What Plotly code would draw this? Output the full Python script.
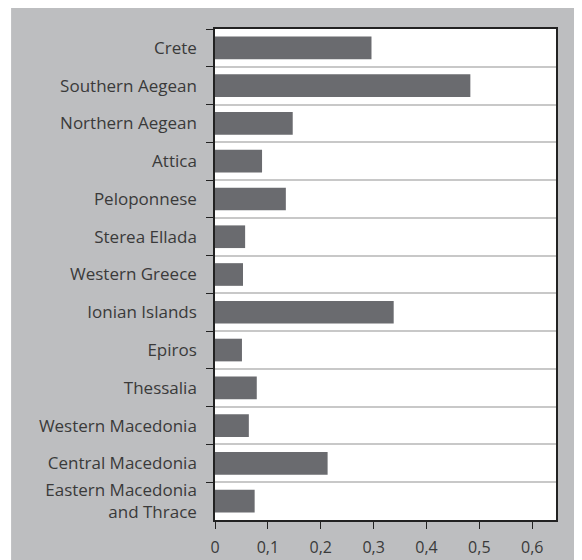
import plotly.graph_objects as go

# regions, top to bottom as in the chart
regions = [
    "Crete",
    "Southern Aegean",
    "Northern Aegean",
    "Attica",
    "Peloponnese",
    "Sterea Ellada",
    "Western Greece",
    "Ionian Islands",
    "Epiros",
    "Thessalia",
    "Western Macedonia",
    "Central Macedonia",
    "Eastern Macedonia<br>and Thrace",
]
values = [0.296, 0.483, 0.147, 0.089, 0.134, 0.057, 0.053, 0.338, 0.051, 0.079, 0.064, 0.213, 0.075]
x_ticks = [0, 0.1, 0.2, 0.3, 0.4, 0.5, 0.6]
x_tick_labels = ["0", "0,1", "0,2", "0,3", "0,4", "0,5", "0,6"]

BG = "#bdbec0"
BAR = "#6a6b6f"
TEXT = "#3a3a3a"

fig = go.Figure()
fig.add_trace(go.Bar(
    x=values,
    y=regions,
    orientation="h",
    marker=dict(color=BAR, line=dict(width=0)),
    hoverinfo="x+y",
))

# page body has an 8px margin, so the figure is sized to fit the window
fig.update_layout(
    width=574,
    height=552,
    margin=dict(l=207, r=26, t=21, b=40),
    paper_bgcolor=BG,
    plot_bgcolor="white",
    separators=",.",
    bargap=0.4,
    showlegend=False,
    font=dict(family="Open Sans", size=17, color=TEXT),
    # white strip left of the grey panel
    shapes=[
        dict(type="rect", xref="paper", yref="paper", x0=-1, x1=-0.598, y0=-1, y1=2,
             fillcolor="white", line=dict(width=0), layer="below"),
    ],
)

fig.update_xaxes(
    range=[0, 0.645],
    tickvals=x_ticks,
    ticktext=x_tick_labels,
    ticks="outside",
    ticklen=7,
    tickcolor="#222",
    ticklabelstandoff=5,
    showgrid=False,
    zeroline=False,
    showline=True,
    linecolor="#222",
    linewidth=1.5,
    mirror=True,
    automargin=False,
    tickfont=dict(size=16, color=TEXT),
)
fig.update_yaxes(
    autorange="reversed",
    ticks="outside",
    tickson="boundaries",
    ticklen=7,
    tickcolor="#222",
    showgrid=True,
    gridcolor="#c8c8c8",
    gridwidth=1.5,
    showline=True,
    linecolor="#222",
    linewidth=1.5,
    mirror=True,
    automargin=False,
    ticklabelstandoff=13,
    tickfont=dict(size=17, color=TEXT),
)

fig.write_html("out.html")
